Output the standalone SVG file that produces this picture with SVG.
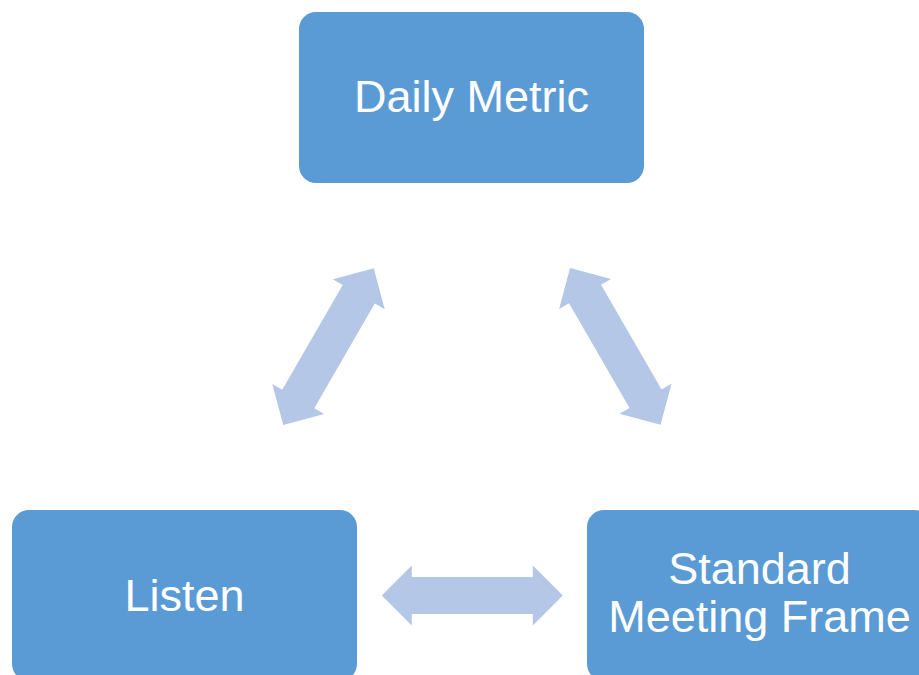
<svg xmlns="http://www.w3.org/2000/svg" width="919" height="675" viewBox="0 0 919 675">
  <style>
    .box { fill: #5B9BD5; }
    .lbl { fill: #FFFFFF; font-family: "Liberation Sans", Arial, sans-serif; font-size: 45px; text-anchor: middle; }
    .arr { fill: #B4C7E7; }
  </style>
  <defs>
    <path id="dbl" d="M -90.5 0 L -60.5 -30 L -60.5 -18.5 L 60.5 -18.5 L 60.5 -30 L 90.5 0 L 60.5 30 L 60.5 18.5 L -60.5 18.5 L -60.5 30 Z"/>
  </defs>
  <rect width="919" height="675" fill="#FFFFFF"/>
  <g id="connectors">
    <use href="#dbl" class="arr" transform="translate(328.5 346.6) rotate(-60)"/>
    <use href="#dbl" class="arr" transform="translate(615.3 346.3) rotate(60)"/>
    <use href="#dbl" class="arr" transform="translate(472.3 595.5)"/>
  </g>
  <g id="daily-metric">
    <rect class="box" x="299" y="12" width="345" height="171" rx="17" ry="17"/>
    <text class="lbl" x="471.5" y="112">Daily Metric</text>
  </g>
  <g id="listen">
    <rect class="box" x="12" y="510" width="345" height="171" rx="17" ry="17"/>
    <text class="lbl" x="184.5" y="611">Listen</text>
  </g>
  <g id="standard-meeting-frame">
    <rect class="box" x="587" y="510" width="345" height="171" rx="17" ry="17"/>
    <text class="lbl" x="759.5" y="584">Standard</text>
    <text class="lbl" x="759.5" y="632">Meeting Frame</text>
  </g>
</svg>
